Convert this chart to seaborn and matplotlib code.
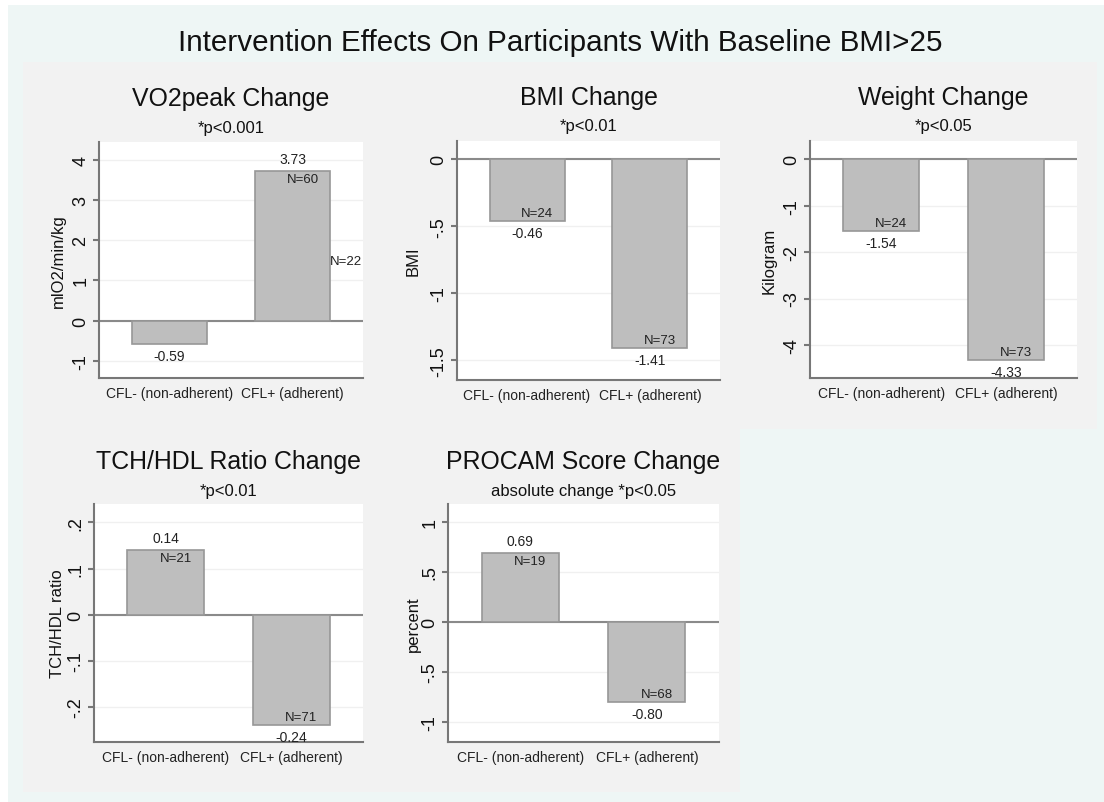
import matplotlib
matplotlib.use("Agg")
import matplotlib.pyplot as plt
import seaborn as sns

# data
groups = ["CFL- (non-adherent)", "CFL+ (adherent)"]

vo2_change = [-0.59, 3.73]
vo2_n = [22, 60]
vo2_n22_y = 1.48          # the odd "N=22" label sits right of the second bar
vo2_ticks = [-1, 0, 1, 2, 3, 4]
vo2_ticklabels = ["-1", "0", "1", "2", "3", "4"]

bmi_change = [-0.46, -1.41]
bmi_n = [24, 73]
bmi_ticks = [-1.5, -1, -0.5, 0]
bmi_ticklabels = ["-1.5", "-1", "-.5", "0"]

weight_change = [-1.54, -4.33]
weight_n = [24, 73]
weight_ticks = [-4, -3, -2, -1, 0]
weight_ticklabels = ["-4", "-3", "-2", "-1", "0"]

tch_change = [0.14, -0.24]
tch_n = [21, 71]
tch_ticks = [-0.2, -0.1, 0, 0.1, 0.2]
tch_ticklabels = ["-.2", "-.1", "0", ".1", ".2"]

procam_change = [0.69, -0.80]
procam_n = [19, 68]
procam_ticks = [-1, -0.5, 0, 0.5, 1]
procam_ticklabels = ["-1", "-.5", "0", ".5", "1"]

W, H = 1104, 803

sns.set_style("white")
plt.rcParams["font.family"] = ["Liberation Sans", "DejaVu Sans"]

fig = plt.figure(figsize=(W / 100, H / 100), dpi=100)
fig.patch.set_facecolor("white")


def px_rect(x0, y0, x1, y1, color):
    fig.add_artist(plt.Rectangle((x0 / W, 1 - y1 / H), (x1 - x0) / W, (y1 - y0) / H,
                                 transform=fig.transFigure, facecolor=color,
                                 edgecolor="none", zorder=0))


# backgrounds: outer teal, gray panel regions
px_rect(8, 6, W, H, "#eef6f5")
px_rect(23, 63, 1097, 430, "#f2f2f2")
px_rect(23, 430, 740, 793, "#f2f2f2")

fig.text(560 / W, 1 - 43 / H, "Intervention Effects On Participants With Baseline BMI>25",
         ha="center", va="center", fontsize=21.3, color="#111111")

panels = [
    dict(title="VO2peak Change", sub="*p<0.001", ylabel="mlO2/min/kg",
         vals=vo2_change, ns=vo2_n, ylim=(-1.43, 4.44),
         ticks=vo2_ticks, ticklabels=vo2_ticklabels, box=(99, 143, 363, 379), yoff=41),
    dict(title="BMI Change", sub="*p<0.01", ylabel="BMI",
         vals=bmi_change, ns=bmi_n, ylim=(-1.647, 0.137),
         ticks=bmi_ticks, ticklabels=bmi_ticklabels, box=(457, 142, 720, 381), yoff=44),
    dict(title="Weight Change", sub="*p<0.05", ylabel="Kilogram",
         vals=weight_change, ns=weight_n, ylim=(-4.71, 0.39),
         ticks=weight_ticks, ticklabels=weight_ticklabels, box=(810, 142, 1077, 379), yoff=41),
    dict(title="TCH/HDL Ratio Change", sub="*p<0.01", ylabel="TCH/HDL ratio",
         vals=tch_change, ns=tch_n, ylim=(-0.276, 0.24),
         ticks=tch_ticks, ticklabels=tch_ticklabels, box=(94, 505, 363, 743), yoff=37),
    dict(title="PROCAM Score Change", sub="absolute change *p<0.05", ylabel="percent",
         vals=procam_change, ns=procam_n, ylim=(-1.2, 1.18),
         ticks=procam_ticks, ticklabels=procam_ticklabels, box=(448, 505, 719, 743), yoff=35),
]

bar_w = 0.61
for k, p in enumerate(panels):
    x0, y0, x1, y1 = p["box"]
    ax = fig.add_axes([x0 / W, 1 - y1 / H, (x1 - x0) / W, (y1 - y0) / H])
    ax.set_facecolor("white")

    sns.barplot(x=groups, y=p["vals"], ax=ax, color="#bebebe", saturation=1,
                edgecolor="#979797", linewidth=1.2, width=bar_w, zorder=3)
    ax.axhline(0, color="#8a8a8a", lw=1.5, zorder=2)

    ax.set_xlim(-0.57, 1.57)
    ax.set_ylim(*p["ylim"])
    ax.set_yticks(p["ticks"])
    ax.set_yticklabels(p["ticklabels"])
    ax.grid(axis="y", color="#f0f0f0", lw=1, zorder=0)
    ax.set_axisbelow(True)

    for s in ["top", "right"]:
        ax.spines[s].set_visible(False)
    for s in ["left", "bottom"]:
        ax.spines[s].set_color("#777777")
        ax.spines[s].set_linewidth(1.5)

    ax.tick_params(axis="y", length=4.3, width=1.5, color="#777777", pad=2.5,
                   labelsize=13, labelcolor="#111111", left=True)
    plt.setp(ax.get_yticklabels(), rotation=90, va="center", ha="right")
    ax.tick_params(axis="x", length=0, pad=6, labelsize=10, labelcolor="#222222")

    ax.set_ylabel(p["ylabel"], fontsize=12, color="#111111")
    ax.yaxis.set_label_coords(-p["yoff"] / (x1 - x0), 0.5)
    ax.yaxis.label.set_va("center")

    ax.annotate(p["title"], xy=(0.5, 1), xycoords="axes fraction",
                xytext=(0, 44 if k < 3 else 43), textcoords="offset pixels",
                ha="center", va="center", fontsize=17.9, color="#111111")
    ax.annotate(p["sub"], xy=(0.5, 1), xycoords="axes fraction",
                xytext=(0, 15 if k < 3 else 13), textcoords="offset pixels",
                ha="center", va="center", fontsize=12, color="#111111")

    for i, (v, n) in enumerate(zip(p["vals"], p["ns"])):
        sign = 1 if v >= 0 else -1
        ax.annotate(f"{v:.2f}", xy=(i, v), xytext=(0, 12 * sign),
                    textcoords="offset pixels", ha="center", va="center",
                    fontsize=10, color="#222222")
        if k == 0 and i == 0:
            ax.annotate(f"N={n}", xy=(1 + bar_w / 2, vo2_n22_y), ha="left", va="center",
                        fontsize=9.5, color="#222222", annotation_clip=False)
            continue
        ax.annotate(f"N={n}", xy=(i, v), xytext=(10, -8 * sign),
                    textcoords="offset pixels", ha="center", va="center",
                    fontsize=9.5, color="#222222")

fig.savefig("out.png", dpi=100, facecolor=fig.get_facecolor())
